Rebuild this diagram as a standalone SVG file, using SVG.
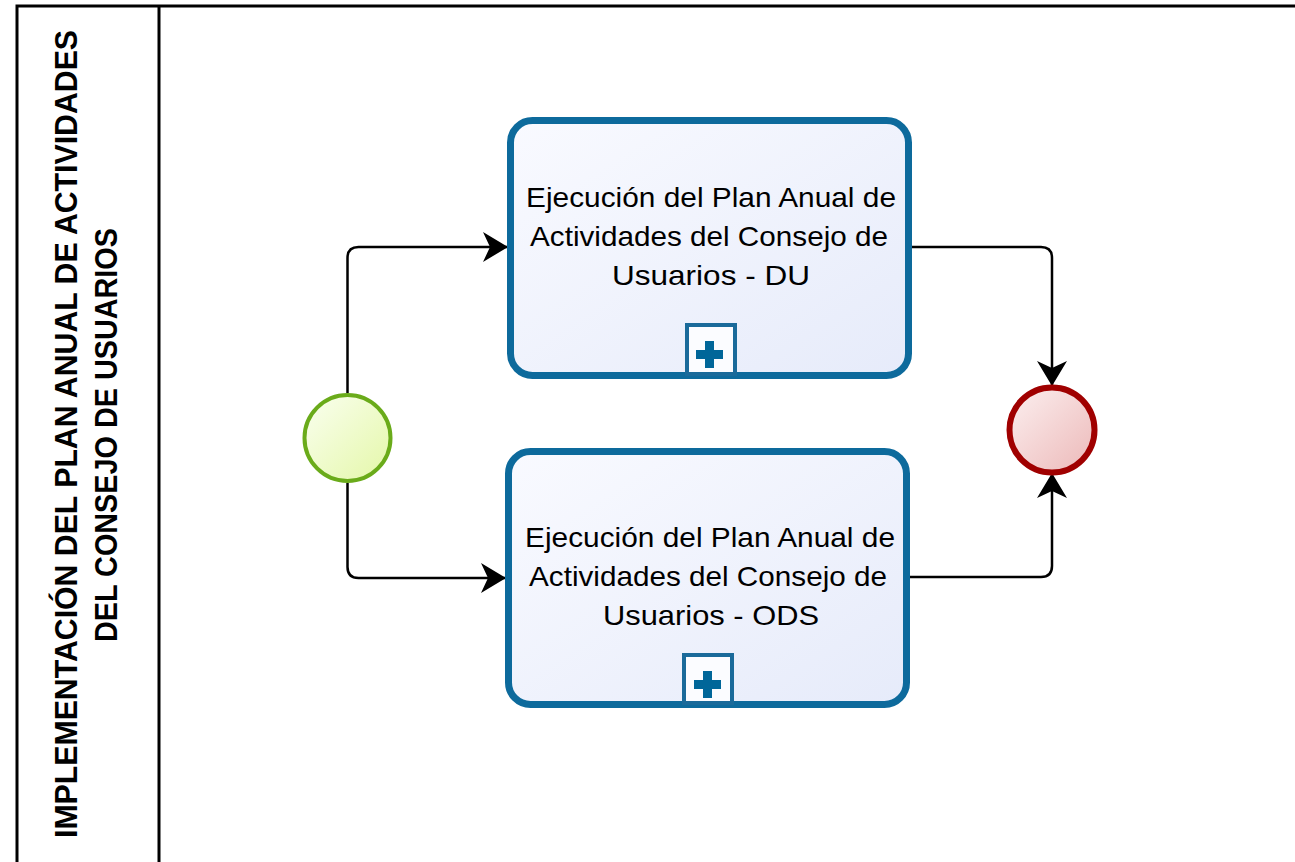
<svg xmlns="http://www.w3.org/2000/svg" width="1295" height="862" viewBox="0 0 1295 862">
<style>
.frame{stroke:#000;stroke-width:3;fill:none}
.task{fill:url(#gTask);stroke:#0d6a9c;stroke-width:7}
.mk{fill:#fbfcff;stroke:#1a6a9a;stroke-width:4}
.plus{fill:#006699}
.tt{font-family:"Liberation Sans",Arial,sans-serif;font-size:28px;fill:#000;text-anchor:middle}
.lane{font-family:"Liberation Sans",Arial,sans-serif;font-weight:bold;font-size:31px;fill:#000;text-anchor:middle}
.conn{fill:none;stroke:#000;stroke-width:2.5}
</style>
<defs>
<linearGradient id="gTask" x1="0" y1="0" x2="1" y2="1">
<stop offset="0" stop-color="#f9faff"/><stop offset="1" stop-color="#e6ebfa"/>
</linearGradient>
<linearGradient id="gStart" x1="0" y1="0" x2="1" y2="1">
<stop offset="0" stop-color="#fafff0"/><stop offset="1" stop-color="#e4f7a8"/>
</linearGradient>
<linearGradient id="gEnd" x1="0" y1="0" x2="1" y2="1">
<stop offset="0" stop-color="#fcf0f0"/><stop offset="1" stop-color="#ecb8b8"/>
</linearGradient>
<marker id="arr" markerUnits="userSpaceOnUse" viewBox="0 0 26 32" markerWidth="26" markerHeight="32" refX="24" refY="16" orient="auto">
<path d="M0,1 L25,16 L0,31 L7,16 Z" fill="#000"/>
</marker>
</defs>
<g id="lane">
<path class="frame" d="M17,862 V6 H1295"/>
<line class="frame" x1="159" y1="6" x2="159" y2="862"/>
<text class="lane" transform="translate(77,434) rotate(-90)" textLength="808" lengthAdjust="spacingAndGlyphs">IMPLEMENTACIÓN DEL PLAN ANUAL DE ACTIVIDADES</text>
<text class="lane" transform="translate(117,435) rotate(-90)" textLength="414" lengthAdjust="spacingAndGlyphs">DEL CONSEJO DE USUARIOS</text>
</g>
<g id="connectors">
<path class="conn" d="M347.5,393 V258 Q347.5,247 358.5,247 H507" marker-end="url(#arr)"/>
<path class="conn" d="M347.5,483 V567 Q347.5,578 358.5,578 H505" marker-end="url(#arr)"/>
<path class="conn" d="M912,247 H1041 Q1052,247 1052,258 V385" marker-end="url(#arr)"/>
<path class="conn" d="M910,577 H1041 Q1052,577 1052,566 V474" marker-end="url(#arr)"/>
</g>
<g id="start">
<circle cx="347.5" cy="438" r="43" fill="url(#gStart)" stroke="#6aab1a" stroke-width="4"/>
</g>
<g id="end">
<circle cx="1052" cy="430" r="42.5" fill="url(#gEnd)" stroke="#a00000" stroke-width="6"/>
</g>
<g id="task1">
<rect class="task" x="510.5" y="120.5" width="398" height="255" rx="22"/>
<text class="tt" x="711" y="207" textLength="370" lengthAdjust="spacingAndGlyphs">Ejecución del Plan Anual de</text>
<text class="tt" x="709" y="246" textLength="358" lengthAdjust="spacingAndGlyphs">Actividades del Consejo de</text>
<text class="tt" x="711" y="285" textLength="198" lengthAdjust="spacingAndGlyphs">Usuarios - DU</text>
<rect class="mk" x="687" y="325" width="48" height="49"/>
<path class="plus" d="M705,341 h9 v9 h9 v9 h-9 v9 h-9 v-9 h-9 v-9 h9 z"/>
</g>
<g id="task2">
<rect class="task" x="508.5" y="451.5" width="398" height="253" rx="22"/>
<text class="tt" x="710" y="547" textLength="370" lengthAdjust="spacingAndGlyphs">Ejecución del Plan Anual de</text>
<text class="tt" x="708" y="586" textLength="358" lengthAdjust="spacingAndGlyphs">Actividades del Consejo de</text>
<text class="tt" x="711" y="625" textLength="216" lengthAdjust="spacingAndGlyphs">Usuarios - ODS</text>
<rect class="mk" x="684" y="655" width="48" height="48"/>
<path class="plus" d="M703,671 h9 v9 h9 v9 h-9 v9 h-9 v-9 h-9 v-9 h9 z"/>
</g>
</svg>
